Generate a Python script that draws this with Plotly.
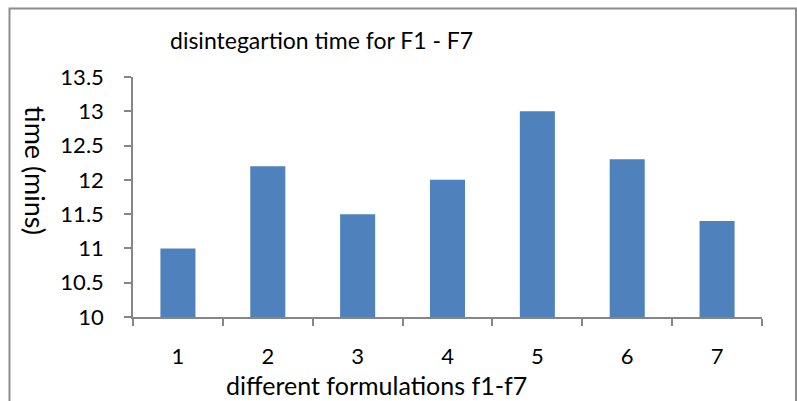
import plotly.graph_objects as go

categories = ["1", "2", "3", "4", "5", "6", "7"]
values = [11, 12.2, 11.5, 12, 13, 12.3, 11.4]
y_ticks = [10, 10.5, 11, 11.5, 12, 12.5, 13, 13.5]
y_tick_labels = ["10", "10.5", "11", "11.5", "12", "12.5", "13", "13.5"]

W, H = 797, 401
L, R, T, B = 133, 35, 77, 84
pw = W - L - R
ph = H - T - B

def px(x):
    return (x - L) / pw

def py(y):
    return (H - B - y) / ph

FONT = "Lato, Carlito, Calibri, sans-serif"
AXC = "#868686"

fig = go.Figure(go.Bar(
    x=categories, y=values, marker=dict(color="#4F81BD", line=dict(width=0)),
    width=0.39,
))

fig.update_layout(
    width=W, height=H,
    margin=dict(l=L, r=R, t=T, b=B, pad=0),
    paper_bgcolor="white", plot_bgcolor="white",
    showlegend=False,
    font=dict(family=FONT, size=22, color="black"),
    xaxis=dict(
        type="category", showline=True, linecolor=AXC, linewidth=1.5,
        ticks="outside", tickcolor=AXC, ticklen=7, tickwidth=1.5,
        tickson="boundaries", showgrid=False, zeroline=False,
        ticklabelstandoff=19, tickfont=dict(size=22),
    ),
    yaxis=dict(
        range=[10, 13.5], tickvals=y_ticks, ticktext=y_tick_labels,
        showline=True, linecolor=AXC, linewidth=1.5,
        ticks="outside", tickcolor=AXC, ticklen=7, tickwidth=1.5,
        showgrid=False, zeroline=False, ticklabelstandoff=16,
        tickfont=dict(size=22),
    ),
    shapes=[dict(
        type="rect", xref="paper", yref="paper",
        x0=px(9.5), x1=px(796), y0=py(8.5), y1=py(420),
        line=dict(color="#8C8C8C", width=2), fillcolor="rgba(0,0,0,0)",
        layer="above",
    )],
    annotations=[
        dict(text="disintegartion time for F1 - F7", xref="paper", yref="paper",
             x=px(321), y=py(40), xanchor="center", yanchor="middle",
             showarrow=False, font=dict(size=23)),
        dict(text="time (mins)", xref="paper", yref="paper",
             x=px(36), y=py(170), xanchor="center", yanchor="middle",
             textangle=90, showarrow=False, font=dict(size=27)),
        dict(text="different formulations f1-f7", xref="paper", yref="paper",
             x=px(376), y=py(385), xanchor="center", yanchor="middle",
             showarrow=False, font=dict(size=25)),
    ],
)

fig.write_html("out.html")
